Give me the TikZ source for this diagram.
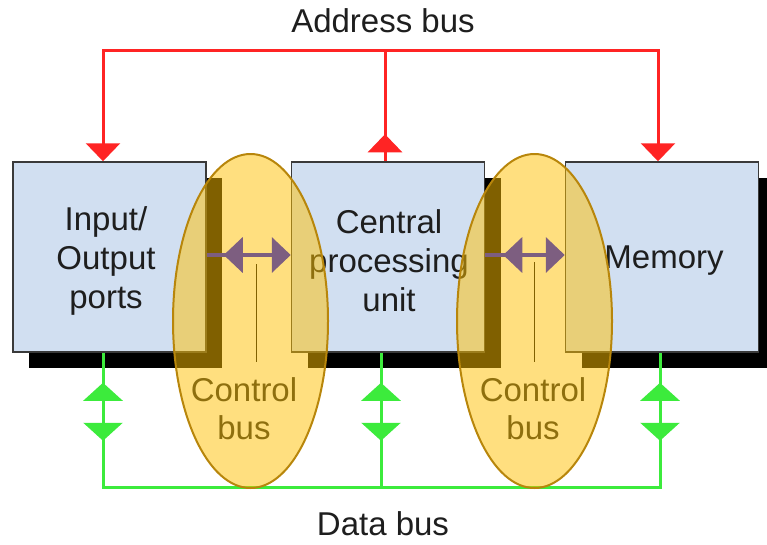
\documentclass[tikz,border=0pt]{standalone}
\usepackage{fontspec}
\setmainfont{Liberation Sans}
\usetikzlibrary{arrows.meta,shadows,decorations.markings,shapes.geometric}

\definecolor{boxfill}{HTML}{D1DFF1}
\definecolor{boxline}{HTML}{3A3A3A}
\definecolor{addrred}{HTML}{FF2424}
\definecolor{datagreen}{HTML}{3CEB3C}
\definecolor{ctrlpurple}{HTML}{7D5E80}
\definecolor{zonefill}{HTML}{FFC000}
\definecolor{zoneline}{HTML}{B8860B}
\definecolor{inktext}{HTML}{1E1E1E}

\tikzset{
  redhead/.tip={Triangle[width=34pt,length=18pt]},
  greenhead/.tip={Triangle[width=39pt,length=18pt]},
  purplehead/.tip={Triangle[width=35pt,length=19pt]},
  bigtext/.style={font=\fontsize{33}{39}\selectfont, text=inktext, align=center, inner sep=0pt},
  unit/.style={draw=boxline, line width=1.5pt, fill=boxfill,
    minimum width=193pt, minimum height=190pt, inner sep=0pt,
    drop shadow={shadow xshift=16pt, shadow yshift=-16pt, opacity=1, fill=black}},
  addr/.style={draw=addrred, line width=3pt},
  datal/.style={draw=datagreen, line width=3pt},
  ctrl/.style={draw=ctrlpurple, line width=4pt},
  zone/.style={ellipse, draw=zoneline, line width=2pt, fill=zonefill, fill opacity=0.5,
    minimum width=155pt, minimum height=334pt, inner sep=0pt},
  bothways/.style={postaction={decorate, decoration={markings,
    mark=at position #1 with {\arrowreversed{greenhead}},
    mark=at position 88pt with {\arrow{greenhead}}}}},
  upmark/.style={postaction={decorate, decoration={markings,
    mark=at position #1 with {\arrow{redhead}}}}},
  backmark/.style={postaction={decorate, decoration={markings,
    mark=at position #1 with {\arrowreversed{purplehead}}}}},
}

\begin{document}
\begin{tikzpicture}[x=1pt, y=-1pt]
  \useasboundingbox (0,0) rectangle (767,544);

  % the three units
  \node[unit] (io)  at (109.5,257) {};
  \node[unit] (cpu) at (388,257)   {};
  \node[unit] (mem) at (662,257)   {};
  \node[bigtext] (iotext)  at (106,261) {Input/\\Output\\ports};
  \node[bigtext] (cputext) at (389,261) {Central\\processing\\unit};
  \node[bigtext] (memtext) at (664,261) {Memory};

  % bus labels
  \node[bigtext] (ablabel) at (383,21)  {Address bus};
  \node[bigtext] (dblabel) at (383,524) {Data bus};

  % address bus
  \coordinate (abL) at (103,50);
  \coordinate (abC) at (385,50);
  \coordinate (abR) at (658,50);
  \draw[addr, redhead-redhead] (abL |- io.north) -- (abL) -- (abR) -- (abR |- mem.north);
  \draw[addr, upmark=27pt] (abC |- cpu.north) -- (abC);

  % data bus
  \coordinate (dbL) at (103,487);
  \coordinate (dbC) at (381,487);
  \coordinate (dbR) at (660,487);
  \draw[datal, bothways=30pt] (dbL |- io.south) -- (dbL);
  \draw[datal, bothways=30pt] (dbC |- cpu.south) -- (dbC);
  \draw[datal, bothways=30pt] (dbR |- mem.south) -- (dbR);
  \draw[datal, line cap=rect] (dbL) -- (dbR);

  % control bus labels and leaders
  \node[bigtext, font=\fontsize{33}{38}\selectfont] (cb1) at (244,409) {Control\\bus};
  \node[bigtext, font=\fontsize{33}{38}\selectfont] (cb2) at (533,409) {Control\\bus};
  \coordinate (l1top) at (256,264);
  \coordinate (l1bot) at (256,362);
  \coordinate (l2top) at (534,262);
  \coordinate (l2bot) at (534,362);
  \draw[line width=1pt] (l1top) -- (l1bot);
  \draw[line width=1pt] (l2top) -- (l2bot);

  % control bus zones
  \node[zone] (z1) at (250.5,321) {};
  \node[zone] (z2) at (534.5,321) {};

  % control bus links
  \coordinate (cl) at (0,255);
  \draw[ctrl, backmark=17pt, -purplehead] (io.east |- cl) -- (cpu.west |- cl);
  \draw[ctrl, backmark=18pt, -purplehead] (cpu.east |- cl) -- (mem.west |- cl);
\end{tikzpicture}
\end{document}
